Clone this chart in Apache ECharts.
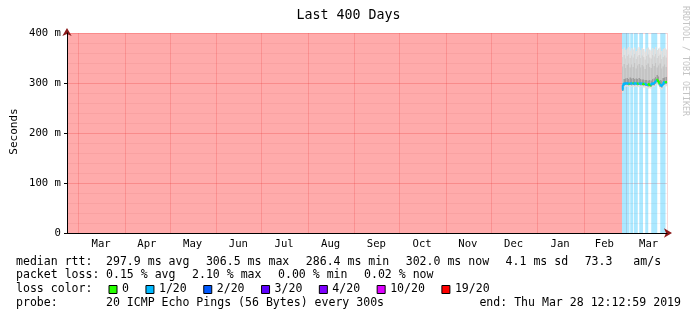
<!DOCTYPE html>
<html><head><meta charset="utf-8">
<script src="https://cdn.jsdelivr.net/npm/echarts@6/dist/echarts.min.js"></script>
<style>html,body{margin:0;padding:0;background:#fff}#c{width:697px;height:321px}</style>
</head><body><div id="c"></div>
<script>
// ---------------- data ----------------
const titleText = 'Last 400 Days';
const yAxisName = 'Seconds';
const periodEnd = Date.UTC(2019, 2, 28, 12, 12, 59);
const periodDays = 400;
const monthLabels = ['Mar','Apr','May','Jun','Jul','Aug','Sep','Oct','Nov','Dec','Jan','Feb','Mar'];
const monthStarts = [[2018,3],[2018,4],[2018,5],[2018,6],[2018,7],[2018,8],[2018,9],[2018,10],[2018,11],[2018,12],[2019,1],[2019,2],[2019,3]];
const yMin = 0, yMax = 400, yStep = 100;             // ms
// loss background runs: [first half-day index, last half-day index, pings lost of 20]
const lossRuns = [[0,739,19],[740,749,1],[751,754,1],[756,760,1],[763,767,1],[771,774,1],[779,786,1],[791,797,1]];
// median rtt (ms), one value per half-day from half-day 740
const medianFirst = 740;
const medianRtt = [286.4,293.5,298.2,299.1,298.6,299.4,298.9,299.3,298.7,299.0,
  298.5,299.2,298.8,299.5,298.9,299.1,298.6,299.3,298.8,299.0,
  298.4,299.1,298.7,299.2,298.5,298.9,298.3,298.8,298.1,298.6,
  297.9,298.4,297.2,296.8,295.9,296.5,297.8,296.1,295.2,297.4,
  298.6,299.2,298.1,299.8,301.5,303.2,305.1,306.5,304.2,300.8,
  298.3,297.1,295.4,293.8,295.9,299.6,301.8,300.4,301.1,302.0];
// smoke (ms), one value per day from half-day 740
const smokeFirst = 740;
const smokeMin = [280.5,291.5,292.0,292.3,291.8,292.4,291.9,292.5,291.6,292.1,291.7,292.0,291.4,291.3,290.9,290.6,290.2,288.7,289.5,288.4,291.6,291.9,294.3,296.8,294.5,288.6,287.0,292.8,293.1,293.7];
const smokeP7 = [284.2,295.5,295.8,296.0,295.6,296.1,295.7,296.2,295.5,295.9,295.6,295.8,295.5,295.4,295.1,294.8,294.5,293.0,293.8,292.9,295.5,295.7,298.6,301.5,298.8,292.7,291.2,296.9,297.1,297.8];
const smokeP11 = [297,308,309,310,308,311,309,310,308,309,308,310,308,307,307,306,306,305,306,305,308,309,312,316,313,306,305,310,311,312];
const smokeP14 = [333,338,330,336,339,331,337,332,340,329,335,338,331,336,333,328,336,339,332,330,338,334,340,331,335,339,329,333,337,332];
const smokeP17 = [352,356,349,354,357,350,355,351,358,348,353,356,350,355,352,347,354,357,351,349,356,353,358,350,354,357,348,352,355,351];
const smokeMax = [368,371,366,369,372,365,370,367,371,364,369,372,366,370,368,363,369,371,367,365,370,368,372,366,369,371,364,368,370,367];
// legend
const lossLevels = [0,1,2,3,4,10,19];
const lossLabels = ['0','1/20','2/20','3/20','4/20','10/20','19/20'];
const lossColors = ['#26ff00','#00b8ff','#0059ff','#5e00ff','#7e00ff','#dd00ff','#ff0000'];
const rttStats = ['297.9 ms avg','306.5 ms max','286.4 ms min','302.0 ms now','4.1 ms sd','73.3   am/s'];
const lossStats = ['0.15 % avg','2.10 % max','0.00 % min','0.02 % now'];
const probeText = '20 ICMP Echo Pings (56 Bytes) every 300s';
const endText = 'end: Thu Mar 28 12:12:59 2019';
const rightText = 'RRDTOOL / TOBI OETIKER';

// ---------------- build ----------------
const HALF = 12 * 3600 * 1000;
const start = periodEnd - periodDays * 24 * 3600 * 1000;
const nCat = periodDays * 2;
const cats = [];
for (let k = 0; k < nCat; k++) cats.push(String(k));
const splitIdx = new Set();
const labelAt = {};
monthStarts.forEach(([y, m], i) => {
  const ms = Date.UTC(y, m - 1, 1), me = Date.UTC(y, m, 1);
  splitIdx.add(Math.round((ms - start) / HALF));
  labelAt[Math.round(((ms + me) / 2 - start) / HALF - 0.5)] = monthLabels[i];
});
function levelIndex(n) { let r = 0; lossLevels.forEach((l, i) => { if (n >= l) r = i; }); return r; }
function lossAt(k) { for (const r of lossRuns) if (k >= r[0] && k <= r[1]) return r[2]; return 0; }
function bgFill(n) {
  const c = lossColors[levelIndex(n)];
  const v = parseInt(c.slice(1), 16);
  return 'rgba(' + (v >> 16) + ',' + ((v >> 8) & 255) + ',' + (v & 255) + ',0.33)';
}
const medianData = medianRtt.map((v, j) => [medianFirst + j, v, j ? medianRtt[j - 1] : v, lossAt(medianFirst + j)]);
const smokeData = smokeMin.map((v, d) => [smokeFirst + 2 * d, v, smokeP7[d], smokeP11[d], smokeP14[d], smokeP17[d], smokeMax[d]]);

const FONT = '"DejaVu Sans Mono", monospace';
const CH = 6.95, GAP = 16.5, LF = '11.55px ' + FONT;
const graphics = [];
function txt(x, y, s, opt) {
  graphics.push(Object.assign({ type: 'text', x: x, y: y, silent: true,
    style: Object.assign({ text: s, font: LF, fill: '#000', textAlign: 'left', align: 'left', textVerticalAlign: 'middle', verticalAlign: 'middle' }, opt || {}) }));
}
function row(y, label, items) {
  txt(16, y, label);
  let x = 106;
  items.forEach(s => { txt(x, y, s); x += s.length * CH + GAP; });
}
row(261.5, 'median rtt:', rttStats);
row(275.2, 'packet loss:', lossStats);
txt(16, 289.2, 'loss color:');
{ let x = 108.5;
  lossLabels.forEach((s, i) => {
    graphics.push({ type: 'rect', silent: true, shape: { x: x + 0.5, y: 285.5, width: 8, height: 8 }, style: { fill: lossColors[i], stroke: '#000', lineWidth: 1 } });
    txt(x + 13.5, 289.2, s);
    x += 13.5 + s.length * CH + GAP;
  }); }
txt(16, 302.8, 'probe:');
txt(106, 302.8, probeText);
txt(681, 302.8, endText, { textAlign: 'right', align: 'right' });
graphics.push({ type: 'text', x: 348.5, y: 15.7, silent: true, style: { text: titleText, font: '13.3px ' + FONT, fill: '#000', textAlign: 'center', align: 'center', textVerticalAlign: 'middle', verticalAlign: 'middle' } });
graphics.push({ type: 'text', x: 14.5, y: 131.5, rotation: Math.PI / 2, silent: true, style: { text: yAxisName, font: '11px ' + FONT, fill: '#000', textAlign: 'center', align: 'center', textVerticalAlign: 'middle', verticalAlign: 'middle' } });
graphics.push({ type: 'text', x: 685, y: 6, rotation: -Math.PI / 2, silent: true, style: { text: rightText, font: '8.3px ' + FONT, fill: '#c4c4c4', textAlign: 'left', align: 'left', textVerticalAlign: 'middle', verticalAlign: 'middle' } });

const GRID_MAJOR = 'rgba(220,60,60,0.24)';
const GRID_VERT = 'rgba(220,60,60,0.2)';
const GRID_MINOR = 'rgba(140,90,90,0.08)';
function decoAxis(color, arrow, z, pos) {
  return { type: 'value', min: 0, max: 1, position: pos, z: z, silent: true,
    axisLabel: { show: false }, axisTick: { show: false }, splitLine: { show: false },
    axisLine: { show: true, lineStyle: { color: color, width: 1 },
      symbol: arrow ? ['none', 'arrow'] : 'none', symbolSize: [7, 8], symbolOffset: [0, 5] } };
}

const option = {
  animation: false,
  backgroundColor: '#fff',
  grid: { left: 67, right: 30, top: 33, bottom: 88 },
  graphic: graphics,
  xAxis: [
    { type: 'category', data: cats, boundaryGap: true, z: 0,
      axisLine: { show: false }, axisTick: { show: false },
      axisLabel: { interval: (i) => labelAt[i] !== undefined, formatter: (v, i) => labelAt[i] || '',
        margin: 6, color: '#000', fontFamily: FONT, fontSize: 10.6 },
      splitLine: { show: true, interval: (i) => splitIdx.has(i), lineStyle: { color: GRID_VERT, width: 1 } } },
    decoAxis('#8b1a1a', true, 6, 'bottom'),
    decoAxis('#000', false, 7, 'bottom')
  ],
  yAxis: [
    { type: 'value', min: yMin, max: yMax, interval: yStep, z: 0,
      axisLine: { show: false },
      axisTick: { show: true, length: 3, lineStyle: { color: '#000' } },
      minorTick: { show: false, splitNumber: 5 },
      axisLabel: { margin: 6, color: '#000', fontFamily: FONT, fontSize: 10.6,
        formatter: v => v === 0 ? '0' : v + ' m' },
      splitLine: { show: true, lineStyle: { color: GRID_MAJOR, width: 1 } },
      minorSplitLine: { show: true, lineStyle: { color: GRID_MINOR, width: 1 } } },
    decoAxis('#8b1a1a', true, 6, 'left'),
    decoAxis('#000', false, 7, 'left')
  ],
  series: [
    { type: 'custom', name: 'loss', xAxisIndex: 0, yAxisIndex: 0, z: 1, silent: true,
      data: lossRuns,
      renderItem: (params, api) => {
        const w = api.size([1, 0])[0];
        const p0 = api.coord([api.value(0), yMax]);
        const p1 = api.coord([api.value(1), yMin]);
        return { type: 'rect', shape: { x: p0[0] - w / 2, y: p0[1], width: p1[0] - p0[0] + w, height: p1[1] - p0[1] },
          style: { fill: bgFill(api.value(2)) } };
      } },
    { type: 'custom', name: 'smoke', xAxisIndex: 0, yAxisIndex: 0, z: 2, silent: true,
      data: smokeData,
      renderItem: (params, api) => {
        const w = api.size([1, 0])[0];
        const x0 = api.coord([api.value(0), 0])[0] - w / 2;
        const band = (lo, hi, fill) => {
          const a = api.coord([api.value(0), lo])[1], b = api.coord([api.value(0), hi])[1];
          return { type: 'rect', shape: { x: x0, y: b, width: 2 * w, height: a - b }, style: { fill: fill } };
        };
        return { type: 'group', children: [
          band(api.value(1), api.value(6), '#e0e0e0'),
          band(api.value(2), api.value(5), '#d3d3d3'),
          band(api.value(2), api.value(4), '#c4c4c4'),
          band(api.value(2), api.value(3), '#9c9c9c')
        ] };
      } },
    { type: 'custom', name: 'median', xAxisIndex: 0, yAxisIndex: 0, z: 3, silent: true,
      data: medianData,
      renderItem: (params, api) => {
        const w = api.size([1, 0])[0];
        const c = api.coord([api.value(0), api.value(1)]);
        const cp = api.coord([api.value(0), api.value(2)]);
        return { type: 'polyline', shape: { points: [[c[0] - w / 2, cp[1]], [c[0] - w / 2, c[1]], [c[0] + w / 2, c[1]]] },
          style: { stroke: lossColors[levelIndex(api.value(3))], lineWidth: 2, fill: null } };
      } }
  ]
};
const chart = echarts.init(document.getElementById('c'), null, { renderer: 'canvas' });
chart.setOption(option);
</script></body></html>
